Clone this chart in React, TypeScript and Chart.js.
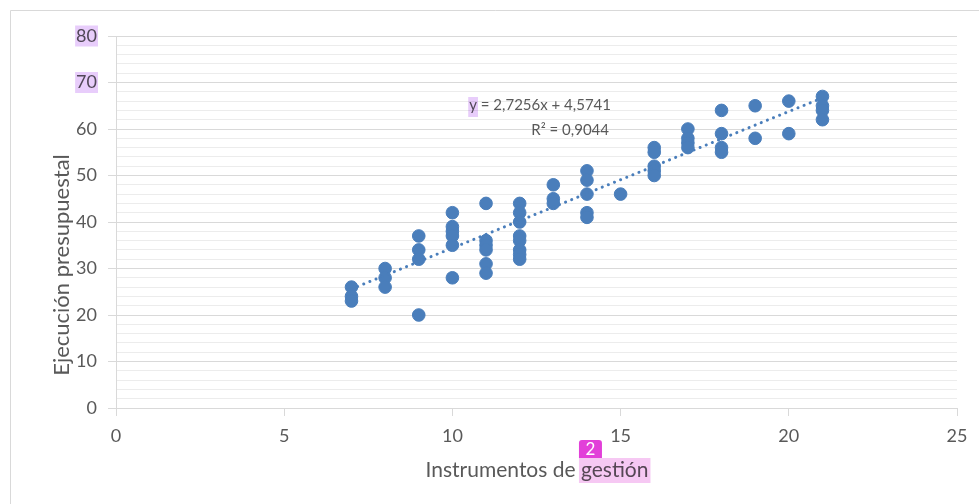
import React, { useEffect, useRef } from 'react';
import { Chart, registerables } from 'chart.js';

Chart.register(...registerables);

// ---- Data ----
const xValues = [
  7, 7, 7,
  8, 8, 8,
  9, 9, 9, 9,
  10, 10, 10, 10, 10, 10,
  11, 11, 11, 11, 11, 11,
  12, 12, 12, 12, 12, 12, 12, 12,
  13, 13, 13,
  14, 14, 14, 14, 14,
  15,
  16, 16, 16, 16, 16,
  17, 17, 17, 17,
  18, 18, 18, 18,
  19, 19,
  20, 20,
  21, 21, 21, 21,
];
const yValues = [
  26, 24, 23,
  30, 28, 26,
  37, 34, 32, 20,
  42, 39, 38, 37, 35, 28,
  44, 36, 35, 34, 31, 29,
  44, 42, 40, 37, 36, 34, 33, 32,
  48, 45, 44,
  51, 49, 46, 42, 41,
  46,
  56, 55, 52, 51, 50,
  60, 58, 57, 56,
  64, 59, 56, 55,
  65, 58,
  66, 59,
  67, 65, 64, 62,
];
// Trendline as drawn in the picture (endpoints)
const trendX = [7, 21];
const trendY = [25.6, 66.7];

const equationLines = ['y = 2,7256x + 4,5741', 'R² = 0,9044'];
const xTitle = 'Instrumentos de gestión';
const xTitlePrefix = 'Instrumentos de ';
const xTitleMarked = 'gestión';
const yTitle = 'Ejecución presupuestal';
const highlightedYTicks = [80, 70];
const badgeLabel = '2';

const FONT = 'Lato, "Open Sans", sans-serif';
const TEXT = '#595959';
const MAJOR = '#d9d9d9';
const MINOR = '#ececec';
const POINT = '#4A7EBB';

const overlayPlugin = {
  id: 'overlay',
  beforeDraw(chart: any) {
    const ctx = chart.ctx;
    ctx.save();
    ctx.fillStyle = '#ffffff';
    ctx.fillRect(0, 0, chart.width, chart.height);
    ctx.strokeStyle = '#d9d9d9';
    ctx.lineWidth = 1;
    ctx.beginPath();
    ctx.moveTo(10.5, chart.height + 5);
    ctx.lineTo(10.5, 10.5);
    ctx.lineTo(chart.width + 5, 10.5);
    ctx.stroke();
    ctx.restore();
  },
  afterDraw(chart: any) {
    const ctx = chart.ctx;
    const ys = chart.scales.y;
    ctx.save();
    ctx.fillStyle = TEXT;

    // Y title
    ctx.font = `22px ${FONT}`;
    ctx.save();
    ctx.translate(62, 265);
    ctx.rotate(-Math.PI / 2);
    ctx.textAlign = 'center';
    ctx.textBaseline = 'middle';
    ctx.fillText(yTitle, 0, 0);
    ctx.restore();

    // X title
    ctx.font = `21px ${FONT}`;
    const xc = 537;
    const xy = 470;
    ctx.textAlign = 'center';
    ctx.textBaseline = 'middle';
    ctx.fillText(xTitle, xc, xy);
    const full = ctx.measureText(xTitle).width;
    const pre = ctx.measureText(xTitlePrefix).width;
    const mw = ctx.measureText(xTitleMarked).width;
    const gx = xc - full / 2 + pre;

    // Equation
    ctx.font = `15px ${FONT}`;
    ctx.textAlign = 'right';
    ctx.fillText(equationLines[0], 611, 105);
    ctx.fillText(equationLines[1], 609, 130);
    const eqStart = 611 - ctx.measureText(equationLines[0]).width;
    const yW = ctx.measureText('y').width;

    // Highlights (multiply so the text shows through)
    ctx.globalCompositeOperation = 'multiply';
    ctx.fillStyle = '#e8cdfb';
    ctx.font = `18px ${FONT}`;
    highlightedYTicks.forEach((v) => {
      const py = ys.getPixelForValue(v);
      const w = ctx.measureText(String(v)).width;
      ctx.fillRect(97 - w - 1, py - 10.5, w + 2, 21);
    });
    ctx.fillRect(eqStart - 1, 97, yW + 2, 20);
    ctx.fillStyle = '#f6c8f3';
    ctx.fillRect(gx - 2, 458, mw + 4, 25);
    ctx.globalCompositeOperation = 'source-over';

    // Badge
    ctx.fillStyle = '#e23fd9';
    const bx = gx - 2;
    const by = 440;
    const bw = 23;
    const bh = 18;
    const r = 3;
    ctx.beginPath();
    ctx.moveTo(bx, by + bh);
    ctx.lineTo(bx, by + r);
    ctx.quadraticCurveTo(bx, by, bx + r, by);
    ctx.lineTo(bx + bw - r, by);
    ctx.quadraticCurveTo(bx + bw, by, bx + bw, by + r);
    ctx.lineTo(bx + bw, by + bh);
    ctx.closePath();
    ctx.fill();
    ctx.fillStyle = '#ffffff';
    ctx.font = `17px ${FONT}`;
    ctx.textAlign = 'center';
    ctx.textBaseline = 'middle';
    ctx.fillText(badgeLabel, bx + bw / 2, by + bh / 2 + 1);
    ctx.restore();
  },
};

export default function App() {
  const ref = useRef<HTMLCanvasElement | null>(null);
  useEffect(() => {
    document.body.style.margin = '0';
    const canvas = ref.current;
    if (!canvas) return;
    const points = xValues.map((x, i) => ({ x, y: yValues[i] }));
    const trend = trendX.map((x, i) => ({ x, y: trendY[i] }));
    const chart = new Chart(canvas, {
      type: 'scatter',
      data: {
        datasets: [
          {
            type: 'line',
            data: trend,
            borderColor: POINT,
            borderWidth: 3,
            borderDash: [0.1, 6.5],
            borderCapStyle: 'round',
            pointRadius: 0,
            fill: false,
            order: 0,
          } as any,
          {
            data: points,
            backgroundColor: POINT,
            borderColor: POINT,
            borderWidth: 1,
            pointRadius: 6.3,
            pointHoverRadius: 6.3,
            order: 1,
          },
        ],
      },
      options: {
        responsive: false,
        animation: false,
        devicePixelRatio: 1,
        layout: { padding: { left: 0, top: 36, right: 22, bottom: 0 } },
        plugins: {
          legend: { display: false },
          tooltip: { enabled: false },
        },
        scales: {
          x: {
            type: 'linear',
            min: 0,
            max: 25,
            ticks: {
              stepSize: 5,
              color: TEXT,
              font: { family: FONT, size: 18 },
              padding: 9,
            },
            grid: {
              drawOnChartArea: false,
              drawTicks: true,
              tickLength: 8,
              tickColor: MAJOR,
            },
            border: { color: MAJOR },
            afterFit: (s: any) => {
              s.height = 96;
            },
          },
          y: {
            type: 'linear',
            min: 0,
            max: 80,
            ticks: {
              stepSize: 2,
              autoSkip: false,
              color: TEXT,
              font: { family: FONT, size: 18 },
              padding: 11,
              callback: (v: any) => (Number(v) % 10 === 0 ? String(v) : ''),
            },
            grid: {
              color: (c: any) => (c.tick && c.tick.value % 10 === 0 ? MAJOR : MINOR),
              tickColor: (c: any) => (c.tick && c.tick.value % 10 === 0 ? MAJOR : 'rgba(0,0,0,0)'),
              tickLength: 8,
              drawTicks: true,
            },
            border: { color: MAJOR },
            afterFit: (s: any) => {
              s.width = 116;
            },
          },
        },
      } as any,
      plugins: [overlayPlugin],
    });
    return () => chart.destroy();
  }, []);
  return (
    <div style={{ width: 979, height: 504 }}>
      <canvas ref={ref} width={979} height={504} style={{ display: 'block' }} />
    </div>
  );
}
